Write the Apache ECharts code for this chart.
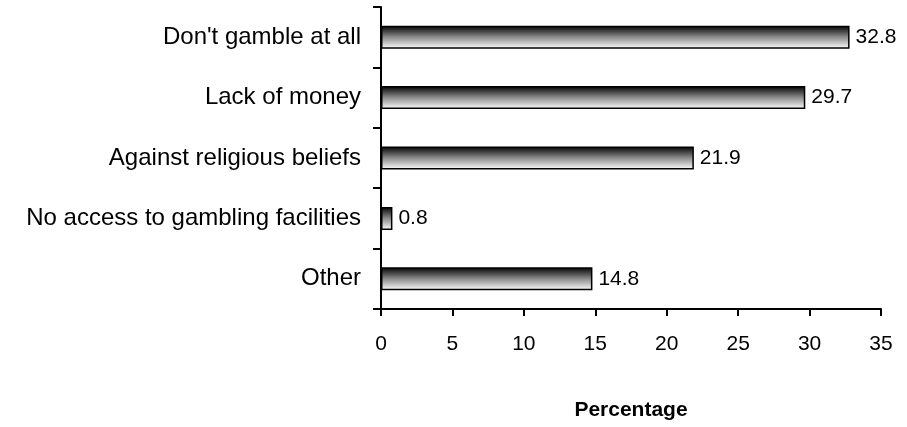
<!DOCTYPE html>
<html><head><meta charset="utf-8">
<script src="https://cdn.jsdelivr.net/npm/echarts@6/dist/echarts.min.js"></script>
<style>html,body{margin:0;padding:0;background:#fff}#c{width:907px;height:427px}</style>
</head><body><div id="c"></div>
<script>
const categories = ["Don't gamble at all", "Lack of money", "Against religious beliefs", "No access to gambling facilities", "Other"];
const values = [32.8, 29.7, 21.9, 0.8, 14.8];
const xTicks = [0, 5, 10, 15, 20, 25, 30, 35];

const chart = echarts.init(document.getElementById('c'), null, {renderer: 'canvas'});
const font = 'Liberation Sans, Arial, sans-serif';
chart.setOption({
  animation: false,
  grid: {left: 381, right: 26, top: 7, bottom: 118, containLabel: false},
  xAxis: {
    type: 'value', min: xTicks[0], max: xTicks[xTicks.length - 1], interval: 5,
    name: 'Percentage', nameLocation: 'middle', nameGap: 91,
    nameTextStyle: {fontFamily: font, fontSize: 21, fontWeight: 'bold', color: '#000'},
    axisLine: {show: true, lineStyle: {color: '#000', width: 2}},
    axisTick: {show: true, length: 7, lineStyle: {color: '#000', width: 2}},
    axisLabel: {fontFamily: font, fontSize: 21, color: '#000', margin: 25},
    splitLine: {show: false}
  },
  yAxis: {
    type: 'category', data: categories, inverse: true,
    axisLine: {show: true, lineStyle: {color: '#000', width: 2}},
    axisTick: {show: true, length: 8, lineStyle: {color: '#000', width: 2}},
    axisLabel: {fontFamily: font, fontSize: 24, color: '#000', margin: 20}
  },
  series: [{
    type: 'bar', data: values, barWidth: 23,
    itemStyle: {
      borderColor: '#000', borderWidth: 1.5,
      color: new echarts.graphic.LinearGradient(0, 0, 0, 1, [
        {offset: 0, color: '#000'},
        {offset: 0.5, color: '#8c8c8c'},
        {offset: 1, color: '#ffffff'}
      ])
    },
    label: {show: true, position: 'right', distance: 6, fontFamily: font, fontSize: 21, color: '#000', formatter: p => p.value.toFixed(1)}
  }]
});
</script></body></html>
